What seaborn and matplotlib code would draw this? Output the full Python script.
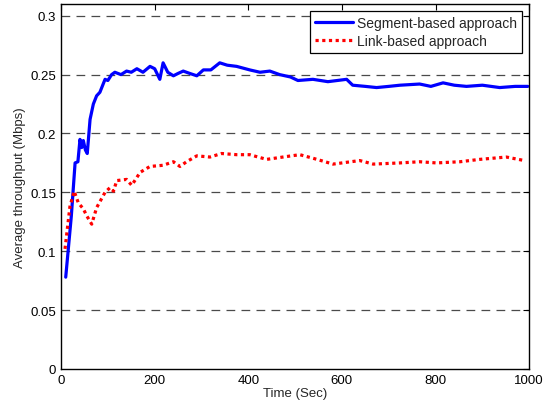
import matplotlib
matplotlib.use("Agg")
import matplotlib.pyplot as plt
import seaborn as sns
import pandas as pd

# Segment-based approach (blue, solid)
seg_time = [10, 22, 30, 36, 40.5, 44, 47.6, 52, 56, 62, 69, 76, 83, 94, 100, 108, 115,
            128, 140, 150, 162, 175, 190, 200, 211, 218, 228, 240, 250, 261, 275, 290,
            304, 320, 339, 355, 375, 403, 425, 446, 467, 490, 506, 538, 570, 610, 623,
            650, 674, 700, 724, 766, 790, 816, 840, 866, 900, 937, 970, 997]
seg_thr = [0.078, 0.13, 0.175, 0.176, 0.195, 0.188, 0.194, 0.186, 0.183, 0.212, 0.225,
           0.232, 0.235, 0.246, 0.245, 0.250, 0.252, 0.250, 0.253, 0.252, 0.255, 0.252,
           0.257, 0.255, 0.246, 0.260, 0.252, 0.249, 0.251, 0.253, 0.251, 0.249, 0.254,
           0.254, 0.260, 0.258, 0.257, 0.254, 0.252, 0.253, 0.250, 0.248, 0.245, 0.246,
           0.244, 0.246, 0.241, 0.240, 0.239, 0.240, 0.241, 0.242, 0.240, 0.243, 0.241,
           0.240, 0.241, 0.239, 0.240, 0.240]

# Link-based approach (red, dotted)
link_time = [8.5, 19, 28, 37, 47.6, 55, 65.5, 76, 94, 104.6, 112, 119, 140, 151, 169,
             190, 218, 240, 254, 268, 290, 318, 343, 375, 403, 439, 474, 510, 538, 581,
             638, 667, 724, 766, 802, 852, 894, 951, 990]
link_thr = [0.102, 0.138, 0.151, 0.141, 0.136, 0.130, 0.123, 0.137, 0.150, 0.154,
            0.151, 0.160, 0.161, 0.156, 0.167, 0.172, 0.173, 0.176, 0.172, 0.176,
            0.181, 0.180, 0.183, 0.182, 0.182, 0.178, 0.180, 0.182, 0.179, 0.174,
            0.177, 0.174, 0.175, 0.176, 0.175, 0.176, 0.178, 0.180, 0.177]

x_ticks = [0, 200, 400, 600, 800, 1000]
y_ticks = [0, 0.05, 0.1, 0.15, 0.2, 0.25, 0.3]
y_tick_labels = ["0", "0.05", "0.1", "0.15", "0.2", "0.25", "0.3"]

sns.set_style("white")
plt.rcParams["font.family"] = ["Liberation Sans", "DejaVu Sans"]

seg_df = pd.DataFrame({"time": seg_time, "thr": seg_thr})
link_df = pd.DataFrame({"time": link_time, "thr": link_thr})

fig = plt.figure(figsize=(5.45, 4.10), dpi=100)
ax = fig.add_axes([0.112, 0.0976, 0.859, 0.8903])

sns.lineplot(data=seg_df, x="time", y="thr", ax=ax, color="#0000ff",
             linewidth=2.3, label="Segment-based approach")
sns.lineplot(data=link_df, x="time", y="thr", ax=ax, color="#ff0000",
             linewidth=2.3, dashes=False, label="Link-based approach")
ax.lines[1].set_dashes((1, 1.1))

ax.set_xlim(0, 1000)
ax.set_ylim(0, 0.31)
ax.set_xticks(x_ticks)
ax.set_yticks(y_ticks)
ax.set_yticklabels(y_tick_labels)

# dashed horizontal grid only
for yv in y_ticks[1:]:
    ax.axhline(yv, color="#4a4a4a", linestyle=(0, (7, 5)), linewidth=0.9, zorder=0)

ax.tick_params(direction="in", top=True, right=True, length=4, width=0.8,
               labelsize=9.5, colors="black")
for s in ax.spines.values():
    s.set_visible(True)
    s.set_color("black")
    s.set_linewidth(1.0)

ax.set_xlabel("Time (Sec)", fontsize=9.5, labelpad=1)
ax.set_ylabel("Average throughput (Mbps)", fontsize=9.5, labelpad=3)

leg = ax.legend(loc="upper right", fontsize=10, frameon=True, fancybox=False,
                edgecolor="black", framealpha=1, borderaxespad=0.5,
                handlelength=2.7, handletextpad=0.35, borderpad=0.35,
                labelspacing=0.3)
leg.get_frame().set_linewidth(0.9)
leg.get_lines()[1].set_dashes((1, 1.1))

fig.savefig("out.png", dpi=100)
